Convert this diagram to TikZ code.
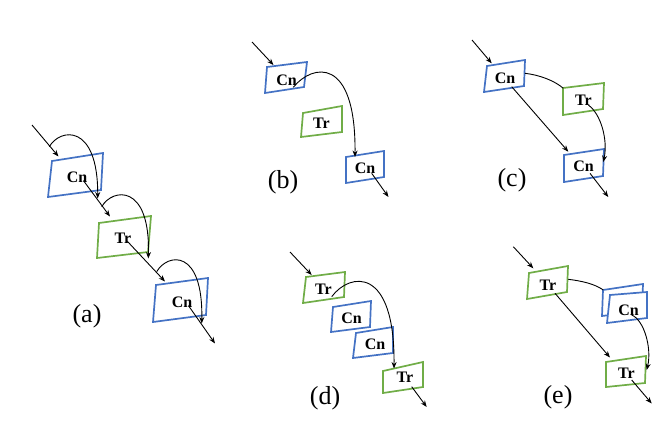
\documentclass[tikz,border=0pt]{standalone}
\usepackage{fontspec}
\setmainfont{Liberation Serif}
\usetikzlibrary{arrows.meta}
\definecolor{cnblue}{HTML}{4472C4}
\definecolor{trgreen}{HTML}{70AD47}
\begin{document}
\begin{tikzpicture}[x=1pt,y=-1pt,
  cnbox/.style={draw=cnblue,line width=1.7pt,fill=white,line join=miter},
  trbox/.style={draw=trgreen,line width=1.7pt,fill=white,line join=miter},
  boxtext/.style={font=\fontsize{16}{16}\selectfont\bfseries,inner sep=0pt},
  lbl/.style={font=\fontsize{26}{26}\selectfont,inner sep=0pt},
  arr/.style={-{Stealth[length=6.5pt,width=5pt]},line width=0.9pt},
  lnk/.style={line width=0.9pt}]
\useasboundingbox (0,0) rectangle (672,429);

% ---------- (a) ----------
\draw[cnbox] (52,161) -- (103,153) -- (101,190) -- (48,197) -- cycle;
\node[boxtext] (a1) at (77,177) {Cn};
\draw[trbox] (99,223) -- (151,216) -- (148,252) -- (97,258) -- cycle;
\node[boxtext] (a2) at (123,238) {Tr};
\draw[cnbox] (156,285) -- (208,278) -- (206,315) -- (153,322) -- cycle;
\node[boxtext] (a3) at (182,302) {Cn};
\node[lbl] (la) at (87,316) {(a)};
\coordinate (a0s) at (32,125);
\coordinate (a0e) at (58.5,156.5);
\coordinate (a1e) at (110,216.5);
\coordinate (a2e) at (165,281.5);
\coordinate (a3e) at (215,343.5);
\draw[arr] (a0s) -- (a0e);
\draw[arr] (a1.south east) ++(-4,-2) -- (a1e);
\draw[arr] (a2.south east) ++(-4,-2) -- (a2e);
\draw[arr] (a3.south east) ++(-4,-2) -- (a3e);
\coordinate (c1s) at (49.3,146.7);
\coordinate (c1e) at (97.7,198.5);
\draw[arr] (c1s) .. controls (60,128) and (98,123) .. (c1e);
\coordinate (c2s) at (101.7,206.7);
\coordinate (c2e) at (148.3,258.5);
\draw[arr] (c2s) .. controls (112.4,188) and (150.4,183) .. (c2e);
\coordinate (c3s) at (156.7,271.7);
\coordinate (c3e) at (201.7,323.5);
\draw[arr] (c3s) .. controls (167.4,253) and (203.4,248) .. (c3e);

% ---------- (b) ----------
\draw[cnbox] (267,67) -- (307,62) -- (304,87) -- (265,93) -- cycle;
\node[boxtext] (b1) at (286.5,80) {Cn};
\draw[trbox] (303,113) -- (342,106) -- (342,132) -- (301,137) -- cycle;
\node[boxtext] (b2) at (321.5,123) {Tr};
\draw[cnbox] (346,157) -- (384,151) -- (384,177) -- (346,183) -- cycle;
\node[boxtext] (b3) at (365,168) {Cn};
\node[lbl] (lb) at (283,182) {(b)};
\coordinate (b0s) at (252,42);
\coordinate (b0e) at (273.5,65);
\coordinate (b3e) at (388.5,197);
\draw[arr] (b0s) -- (b0e);
\coordinate (bcs) at (293.3,87.3);
\coordinate (bce) at (355,157);
\draw[arr] (bcs) .. controls (312,64) and (356,55) .. (bce);
\draw[arr] (371.7,173.3) -- (b3e);

% ---------- (c) ----------
\draw[cnbox] (487,66) -- (525,60) -- (524,86) -- (484,92) -- cycle;
\node[boxtext] (c1) at (505,78) {Cn};
\draw[trbox] (563,88) -- (604,83) -- (603,109) -- (563,115) -- cycle;
\node[boxtext] (c2) at (583.5,100) {Tr};
\draw[cnbox] (564,155) -- (604,149) -- (603,176) -- (564,182) -- cycle;
\node[boxtext] (c3) at (583.5,166.5) {Cn};
\node[lbl] (lc) at (512,180) {(c)};
\coordinate (c0s) at (472,40);
\coordinate (c0e) at (491.7,63.3);
\draw[arr] (c0s) -- (c0e);
\coordinate (cls) at (525,73.3);
\coordinate (cle) at (563.3,88.3);
\draw[lnk] (cls) .. controls (540,75) and (555,81) .. (cle);
\coordinate (cas) at (511.7,86.7);
\coordinate (cae) at (568.3,151.7);
\draw[arr] (cas) -- (cae);
\coordinate (ccs) at (588.3,105);
\coordinate (cce) at (603.3,162);
\draw[arr] (ccs) .. controls (601,114) and (608,140) .. (cce);
\coordinate (c3e) at (608.3,197);
\draw[arr] (590,173.3) -- (c3e);

% ---------- (d) ----------
\draw[trbox] (306,277) -- (345,272) -- (344,297) -- (303,303) -- cycle;
\node[boxtext] (d1) at (323.5,289) {Tr};
\draw[cnbox] (333,307) -- (371,301) -- (370,327) -- (331,332) -- cycle;
\node[boxtext] (d2) at (351.5,318) {Cn};
\draw[cnbox] (356,333) -- (393,327) -- (393,353) -- (353,358) -- cycle;
\node[boxtext] (d3) at (375,344) {Cn};
\draw[trbox] (383,371) -- (423,362) -- (423,387) -- (383,393) -- cycle;
\node[boxtext] (d4) at (405,377) {Tr};
\node[lbl] (ld) at (325,398) {(d)};
\coordinate (d0s) at (290,252);
\coordinate (d0e) at (311.7,275);
\draw[arr] (d0s) -- (d0e);
\coordinate (dcs) at (331.7,296.7);
\coordinate (dce) at (394,368.5);
\draw[arr] (dcs) .. controls (350,272) and (395,266) .. (dce);
\coordinate (d4e) at (426.7,407);
\draw[arr] (411.7,386.7) -- (d4e);

% ---------- (e) ----------
\draw[trbox] (529,273) -- (568,266) -- (567,292) -- (527,299) -- cycle;
\node[boxtext] (e1) at (548,285) {Tr};
\draw[cnbox] (603,290) -- (643,284) -- (642,311) -- (602,316) -- cycle;
\draw[cnbox] (610,295) -- (647,292) -- (647,318) -- (607,323) -- cycle;
\node[boxtext] (e2) at (628.5,310) {Cn};
\draw[trbox] (606,362) -- (646,356) -- (645,383) -- (606,387) -- cycle;
\node[boxtext] (e3) at (626.5,373.5) {Tr};
\node[lbl] (le) at (558,397) {(e)};
\coordinate (e0s) at (513.3,246.7);
\coordinate (e0e) at (533.3,268.3);
\draw[arr] (e0s) -- (e0e);
\coordinate (els) at (568.3,279.3);
\coordinate (ele) at (603.3,290);
\draw[lnk] (els) .. controls (582,281) and (595,284) .. (ele);
\coordinate (eas) at (555,293.3);
\coordinate (eae) at (610,357.5);
\draw[arr] (eas) -- (eae);
\coordinate (ecs) at (631.7,315);
\coordinate (ece) at (646.7,370);
\draw[arr] (ecs) .. controls (644,320) and (652,348) .. (ece);
\coordinate (e3e) at (651.7,403.5);
\draw[arr] (631.7,380) -- (e3e);
\end{tikzpicture}
\end{document}
